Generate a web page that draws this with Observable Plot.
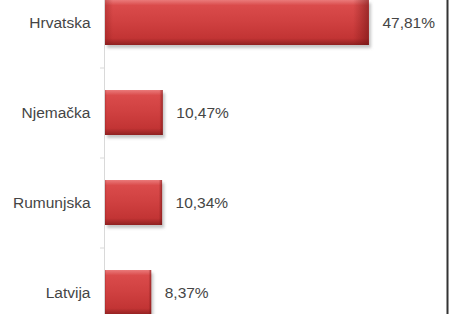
<!DOCTYPE html>
<html>
<head>
<meta charset="utf-8">
<script src="https://cdn.jsdelivr.net/npm/d3@7"></script>
<script src="https://cdn.jsdelivr.net/npm/@observablehq/plot@0.6"></script>
<style>
  html, body { margin: 0; padding: 0; background: #fff; }
  #chart svg { display: block; }
</style>
</head>
<body>
<div id="chart"></div>
<script>
const countries = ["Hrvatska", "Njemačka", "Rumunjska", "Latvija"];
const shares = [47.81, 10.47, 10.34, 8.37];
const shareLabels = ["47,81%", "10,47%", "10,34%", "8,37%"];

const data = countries.map((c, i) => ({country: c, share: shares[i], label: shareLabels[i]}));

const chart = Plot.plot({
  width: 452,
  height: 314,
  marginLeft: 104,
  marginRight: 5,
  marginTop: 0,
  marginBottom: 0,
  style: {fontFamily: "'Liberation Sans', Arial, sans-serif", fontSize: "15.5px", background: "#fff", color: "#404040"},
  x: {domain: [0, 50], range: [105, 381], axis: null},
  y: {domain: countries, range: [-23, 337], paddingInner: 0.5, paddingOuter: 0.25, axis: null},
  marks: [
    Plot.barX(data, {x: "share", y: "country", fill: "#8a8a8a", dx: 2, dy: 3, fillOpacity: 0.5, className: "shadow"}),
    Plot.barX(data, {x: "share", y: "country", fill: "url(#barGrad)"}),
    Plot.barX(data, {x: "share", y: "country", fill: "url(#barGradH)"}),
    Plot.ruleX([0], {stroke: "#d9d9d9", dx: -1}),
    Plot.ruleY(data, {y: "country", x1: -0.9, x2: -0.18, dy: 45, stroke: "#d9d9d9"}),
    Plot.text(data, {y: "country", text: "country", frameAnchor: "left", textAnchor: "end", dx: -14, fontSize: 15.5, fill: "#454545"}),
    Plot.text(data, {x: "share", y: "country", text: "label", textAnchor: "start", dx: 13, fontSize: 15.5, fill: "#454545"}),
    Plot.frame({anchor: "right", stroke: "#333", strokeWidth: 2})
  ]
});

document.getElementById("chart").appendChild(chart);

const svg = d3.select(chart);
const defs = svg.insert("defs", ":first-child");
const g1 = defs.append("linearGradient").attr("id", "barGrad").attr("x1", 0).attr("y1", 0).attr("x2", 0).attr("y2", 1);
[[0, "#ea7a7a"], [0.12, "#da4b4b"], [0.5, "#cf4040"], [0.85, "#c23434"], [1, "#8e2020"]]
  .forEach(([o, c]) => g1.append("stop").attr("offset", o).attr("stop-color", c));
const g2 = defs.append("linearGradient").attr("id", "barGradH").attr("x1", 0).attr("y1", 0).attr("x2", 1).attr("y2", 0);
[[0, "#7a1515", 0.3], [0.03, "#7a1515", 0], [0.94, "#7a1515", 0], [1, "#6a1010", 0.55]]
  .forEach(([o, c, a]) => g2.append("stop").attr("offset", o).attr("stop-color", c).attr("stop-opacity", a));
const f = defs.append("filter").attr("id", "blur").attr("x", "-20%").attr("y", "-20%").attr("width", "140%").attr("height", "140%");
f.append("feGaussianBlur").attr("stdDeviation", 1.5);
svg.selectAll("g.shadow rect, g[class*='shadow'] rect").attr("filter", "url(#blur)");
</script>
</body>
</html>
